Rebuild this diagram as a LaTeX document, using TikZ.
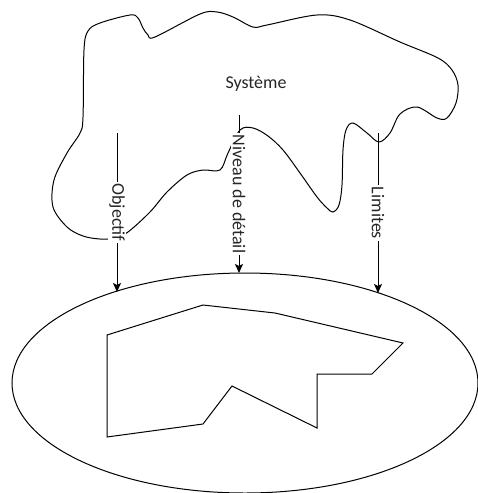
\documentclass[tikz,border=0pt]{standalone}
\usepackage{fontspec}
\setmainfont{Carlito}
\usetikzlibrary{arrows.meta,shapes.geometric}
\begin{document}
\begin{tikzpicture}[x=1pt,y=-1pt,
  every path/.style={line width=1pt},
  lab/.style={fill=white,rotate=-90,inner sep=1.5pt,font=\fontsize{18}{21}\selectfont,text=black!85},
  arr/.style={-{Stealth[length=9pt,width=8pt,inset=2pt]}},
  title/.style={font=\fontsize{18}{21}\selectfont,text=black!85}]
\useasboundingbox (0,0) rectangle (478,493);
% system blob
\draw plot[smooth cycle,tension=0.55] coordinates {
 (240,130) (253,128) (268,136) (283,150) (300,173) (317,197) (327,208) (333,212)
 (339,205) (342,185) (343,150) (346,130) (353,123) (367,133) (379,142) (390,133)
 (400,114) (417,107) (437,118) (447,118) (456,103) (458,85) (452,70) (438,58)
 (400,42) (350,20) (317,15) (267,25) (253,27) (233,17) (217,12) (200,14)
 (155,37) (148,35) (143,28) (138,18) (130,15) (100,23) (88,31) (84,50)
 (83,117) (80,133) (67,153) (54,180) (53,207) (67,227) (83,236) (100,239)
 (115,238) (128,232) (150,212) (167,192) (187,175) (203,170) (220,170) (228,153)};
\node[title] (sys) at (256,84) {Système};
% plane (ellipse)
\node[draw,ellipse,minimum width=466pt,minimum height=220pt,inner sep=0pt] (plane) at (245,383) {};
% polygon
\draw[line join=miter] (107,335) -- (203,305) -- (275,313) -- (403,343) -- (372,374)
  -- (317,374) -- (317,428) -- (232,386) -- (203,424) -- (107,437) -- cycle;
% connectors
\coordinate (sO) at (117,133);
\coordinate (tO) at (117,292);
\coordinate (sN) at (239,115);
\coordinate (tN) at (239,273);
\coordinate (sL) at (378,133);
\coordinate (tL) at (378,293);
\draw[arr] (sO) -- node[lab,midway] (lO) {Objectif} (tO);
\draw[arr] (sN) -- node[lab,midway] (lN) {Niveau de détail} (tN);
\draw[arr] (sL) -- node[lab,midway] (lL) {Limites} (tL);
\end{tikzpicture}
\end{document}
